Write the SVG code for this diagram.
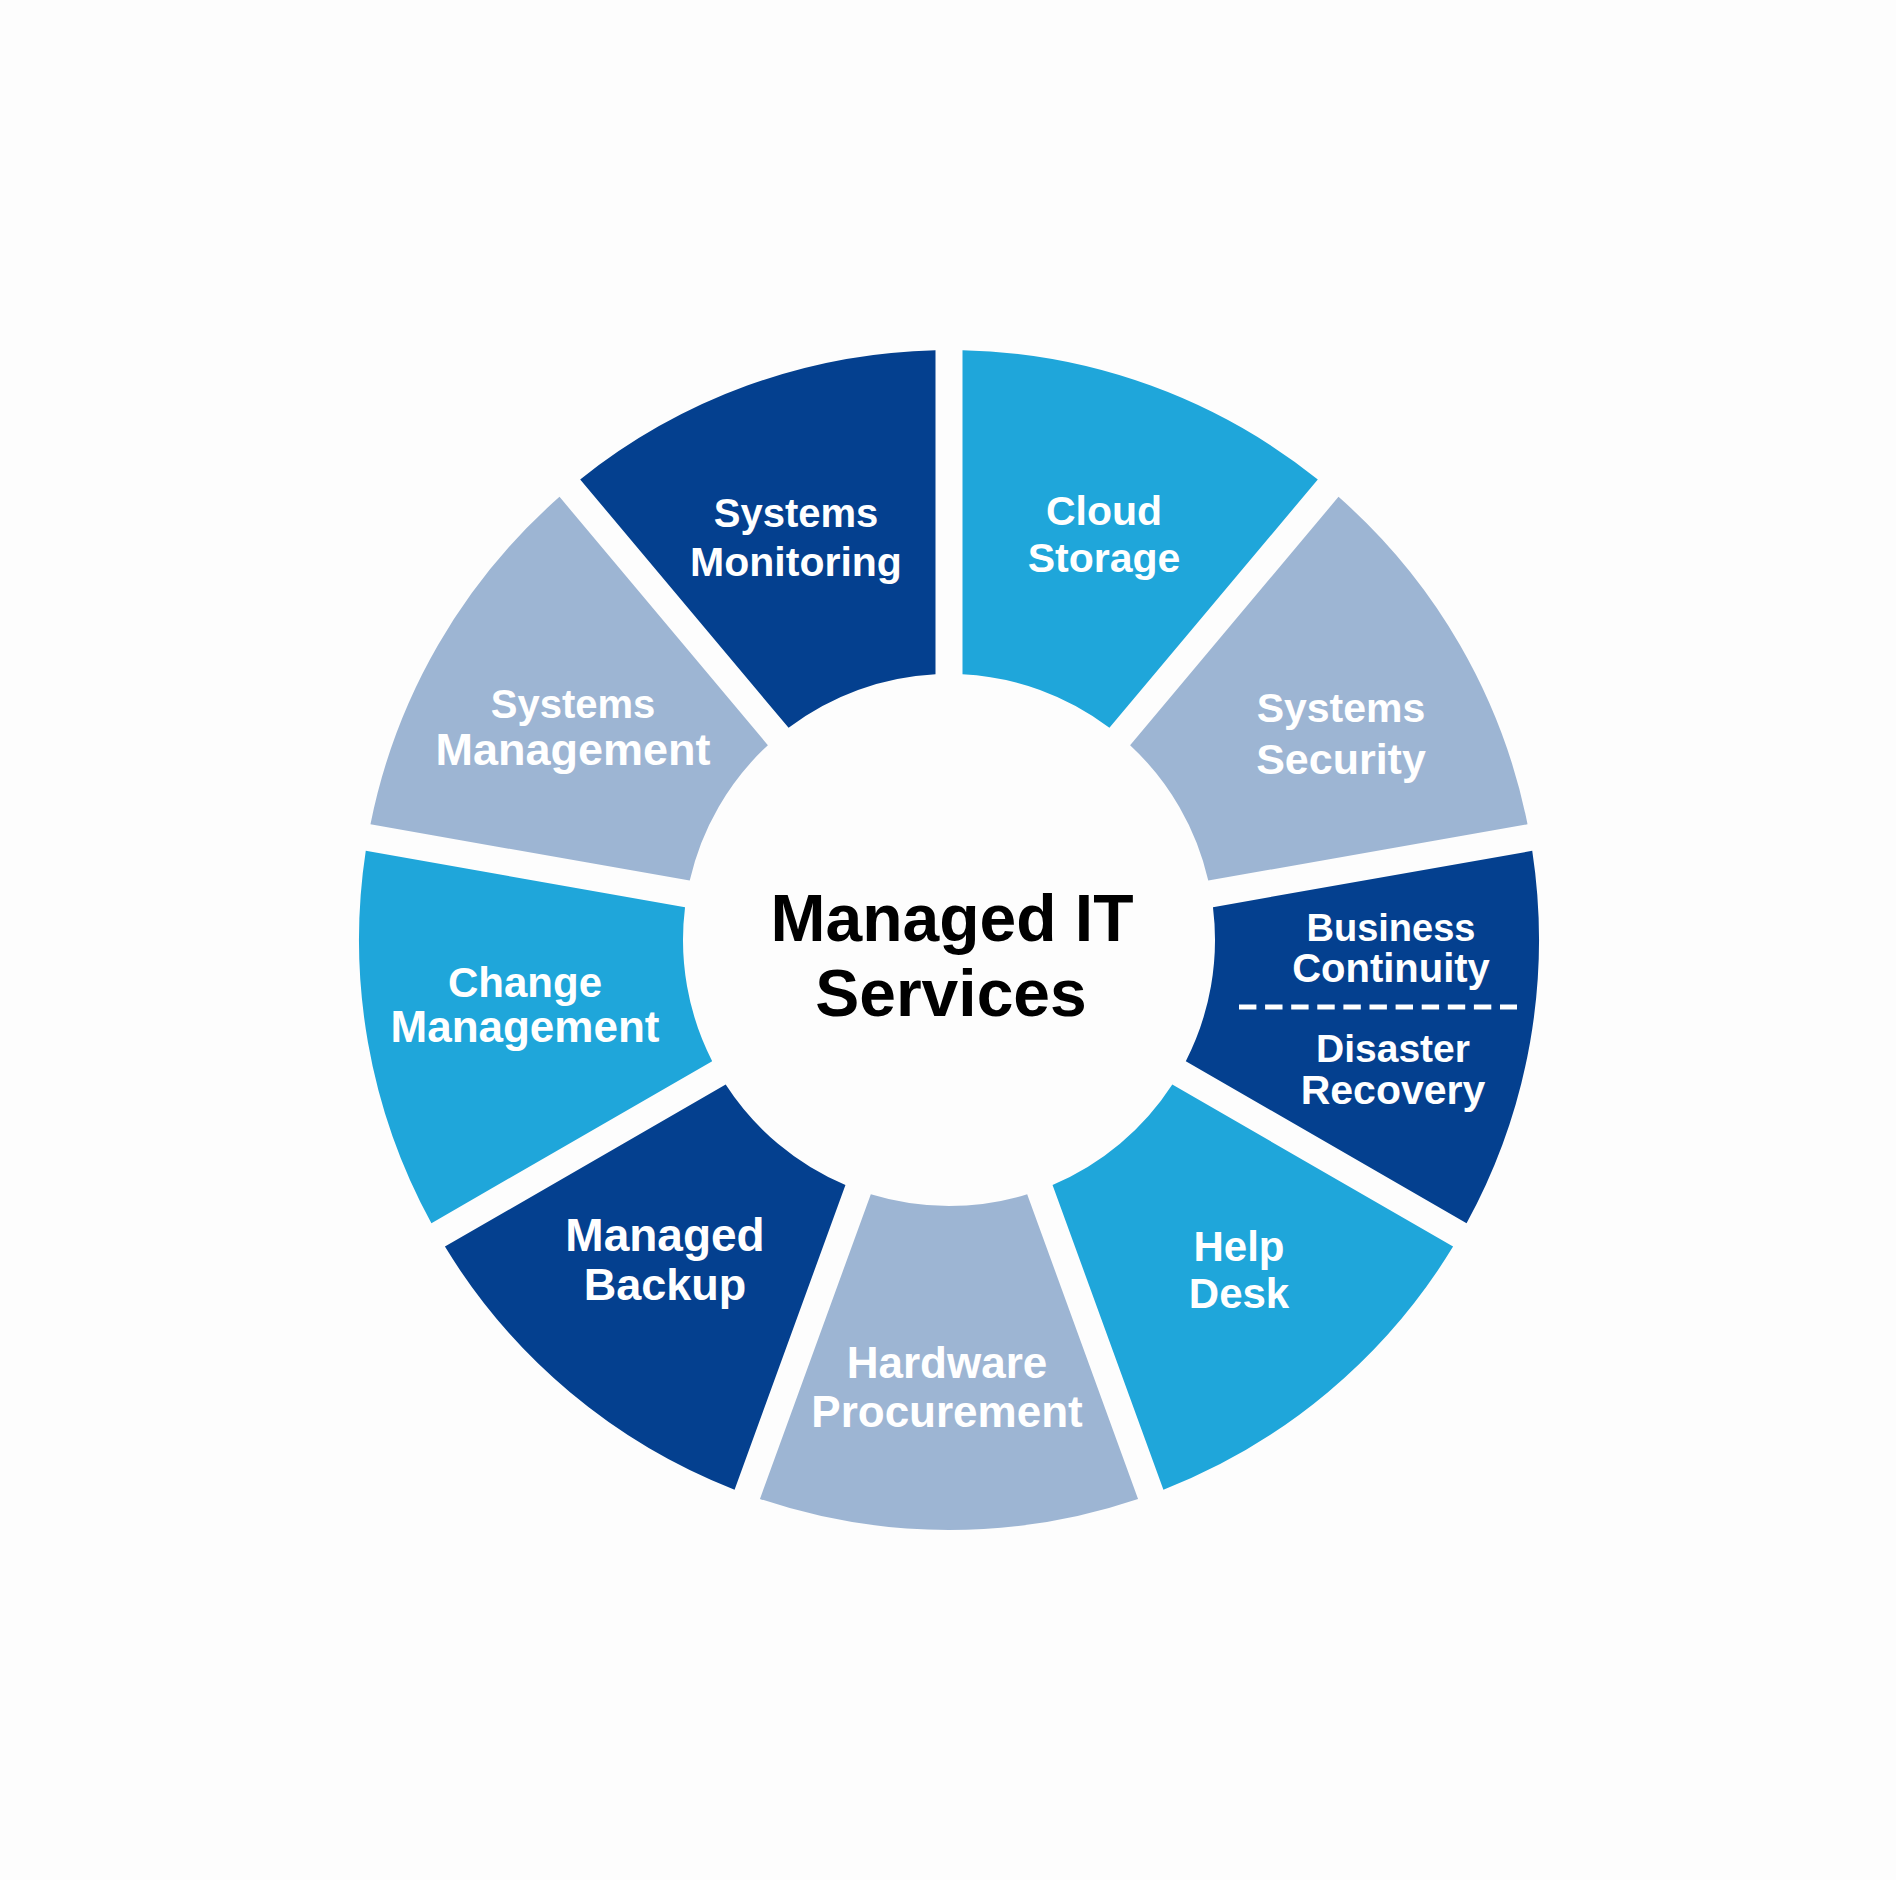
<svg xmlns="http://www.w3.org/2000/svg" xmlns:xlink="http://www.w3.org/1999/xlink" width="1896" height="1880" viewBox="0 0 1896 1880">
  <defs>
    <path id="seg" d="M 13.5 -589.85 A 590 590 0 0 1 368.80 -460.52 L 160.42 -212.18 A 266 266 0 0 0 13.5 -265.66 Z"/>
  </defs>
  <style>
    .light { fill: #1fa6da; }
    .grey { fill: #9db5d3; }
    .dark { fill: #04408f; }
    .lbl { font-family: "Liberation Sans", Arial, sans-serif; font-weight: 700; fill: #ffffff; text-anchor: middle; }
    .title { font-family: "Liberation Sans", Arial, sans-serif; font-weight: 700; fill: #000000; text-anchor: middle; font-size: 66px; }
    .dash { stroke: #ffffff; stroke-width: 5; stroke-dasharray: 17.4 8.7; fill: none; }
  </style>
  <rect x="0" y="0" width="1896" height="1880" fill="#fdfdfd"/>

  <g id="cloud-storage">
    <use xlink:href="#seg" href="#seg" class="light" transform="translate(949,940) rotate(0)"/>
    <text class="lbl" font-size="41" x="1104" y="525">Cloud</text>
    <text class="lbl" font-size="41" x="1104" y="572">Storage</text>
  </g>
  <g id="systems-security">
    <use xlink:href="#seg" href="#seg" class="grey" transform="translate(949,940) rotate(40)"/>
    <text class="lbl" font-size="41" x="1341" y="722">Systems</text>
    <text class="lbl" font-size="43" x="1341" y="774">Security</text>
  </g>
  <g id="business-continuity">
    <use xlink:href="#seg" href="#seg" class="dark" transform="translate(949,940) rotate(80)"/>
    <text class="lbl" font-size="38" x="1391" y="941">Business</text>
    <text class="lbl" font-size="40" x="1391" y="982">Continuity</text>
    <line class="dash" x1="1239" y1="1007" x2="1517" y2="1007"/>
    <text class="lbl" font-size="39" x="1393" y="1062">Disaster</text>
    <text class="lbl" font-size="41" x="1393" y="1104">Recovery</text>
  </g>
  <g id="help-desk">
    <use xlink:href="#seg" href="#seg" class="light" transform="translate(949,940) rotate(120)"/>
    <text class="lbl" font-size="42" x="1239" y="1261">Help</text>
    <text class="lbl" font-size="42" x="1239" y="1308">Desk</text>
  </g>
  <g id="hardware-procurement">
    <use xlink:href="#seg" href="#seg" class="grey" transform="translate(949,940) rotate(160)"/>
    <text class="lbl" font-size="44" x="947" y="1378">Hardware</text>
    <text class="lbl" font-size="44" x="947" y="1427">Procurement</text>
  </g>
  <g id="managed-backup">
    <use xlink:href="#seg" href="#seg" class="dark" transform="translate(949,940) rotate(200)"/>
    <text class="lbl" font-size="46" x="665" y="1251">Managed</text>
    <text class="lbl" font-size="45" x="665" y="1300">Backup</text>
  </g>
  <g id="change-management">
    <use xlink:href="#seg" href="#seg" class="light" transform="translate(949,940) rotate(240)"/>
    <text class="lbl" font-size="42" x="525" y="997">Change</text>
    <text class="lbl" font-size="44" x="525" y="1042">Management</text>
  </g>
  <g id="systems-management">
    <use xlink:href="#seg" href="#seg" class="grey" transform="translate(949,940) rotate(280)"/>
    <text class="lbl" font-size="40" x="573" y="718">Systems</text>
    <text class="lbl" font-size="45" x="573" y="765">Management</text>
  </g>
  <g id="systems-monitoring">
    <use xlink:href="#seg" href="#seg" class="dark" transform="translate(949,940) rotate(320)"/>
    <text class="lbl" font-size="40" x="796" y="527">Systems</text>
    <text class="lbl" font-size="41" x="796" y="576">Monitoring</text>
  </g>
  <g id="center">
    <text class="title" x="952" y="941">Managed IT</text>
    <text class="title" x="951" y="1016">Services</text>
  </g>
  <g id="connectors"/>
</svg>
